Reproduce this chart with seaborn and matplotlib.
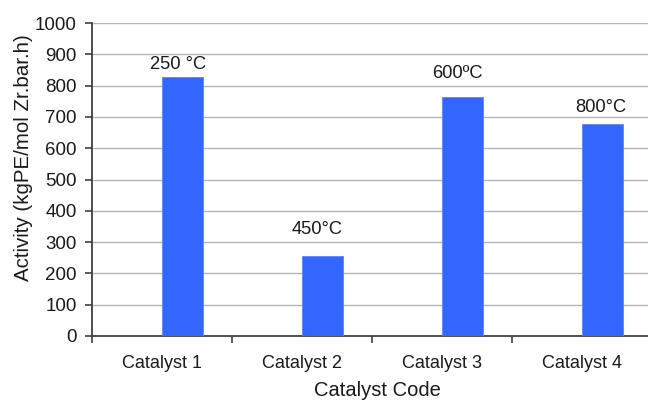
import matplotlib
matplotlib.use("Agg")
import matplotlib.pyplot as plt
import seaborn as sns
import pandas as pd
from matplotlib.ticker import MultipleLocator, FixedLocator

# Catalyst activity data
categories = ["Catalyst 1", "Catalyst 2", "Catalyst 3", "Catalyst 4"]
activity = [827, 255, 764, 677]
temp_labels = ["250 °C", "450°C", "600ºC", "800°C"]
series_order = ["blank", "Activity"]

df = pd.DataFrame({"Catalyst": categories, "Activity": activity, "Series": "Activity"})

sns.set_theme(style="white")
plt.rcParams["font.family"] = ["Liberation Sans", "DejaVu Sans"]

fig = plt.figure(figsize=(6.48, 4.01), dpi=100)
ax = fig.add_axes([92 / 648, 1 - 336 / 401, 556 / 648, 313 / 401])

sns.barplot(data=df, x="Catalyst", y="Activity", hue="Series",
            hue_order=series_order, palette={"blank": "#ffffff", "Activity": "#3366ff"},
            saturation=1, width=0.586, dodge=True, legend=False, ax=ax,
            edgecolor="#5c84ff", linewidth=0.6, zorder=3)

# Temperature annotations above each bar
label_offsets = [(-3, 9), (-4, 19), (-4, 17), (-1, 12)]
bars = [p for p in ax.patches if p.get_height() > 0]
bars.sort(key=lambda p: p.get_x())
for bar, val, txt, (dx, dy) in zip(bars, activity, temp_labels, label_offsets):
    ax.annotate(txt, (bar.get_x() + bar.get_width() / 2, val),
                xytext=(dx, dy), textcoords="offset points",
                ha="center", va="center", fontsize=13.2, color="#1a1a1a")

ax.set_ylim(0, 1000)
ax.set_xlim(-0.5, 3.5 - 4 / 140)
ax.yaxis.set_major_locator(MultipleLocator(100))
ax.grid(axis="y", color="#b4b4b4", linewidth=1.0, zorder=0)
ax.set_axisbelow(True)

ax.xaxis.set_minor_locator(FixedLocator([-0.5, 0.5, 1.5, 2.5, 3.5]))
ax.tick_params(axis="x", which="major", length=0, pad=14, labelsize=13, labelcolor="#1a1a1a")
ax.tick_params(axis="x", which="minor", length=5, width=1.2, color="#404040", direction="out", bottom=True)
ax.tick_params(axis="y", length=5, width=1.2, color="#404040", direction="out", left=True,
               labelsize=13.5, labelcolor="#1a1a1a", pad=6)

for side in ["top", "right"]:
    ax.spines[side].set_visible(False)
for side in ["left", "bottom"]:
    ax.spines[side].set_color("#404040")
    ax.spines[side].set_linewidth(1.3)

ax.set_xlabel("Catalyst Code", fontsize=14.5, color="#1a1a1a")
ax.set_ylabel("Activity (kgPE/mol Zr.bar.h)", fontsize=14.8, color="#1a1a1a")
ax.xaxis.set_label_coords(0.514, -0.143)
ax.yaxis.set_label_coords(-0.106, 0.57)

fig.savefig("out.png", dpi=100)
